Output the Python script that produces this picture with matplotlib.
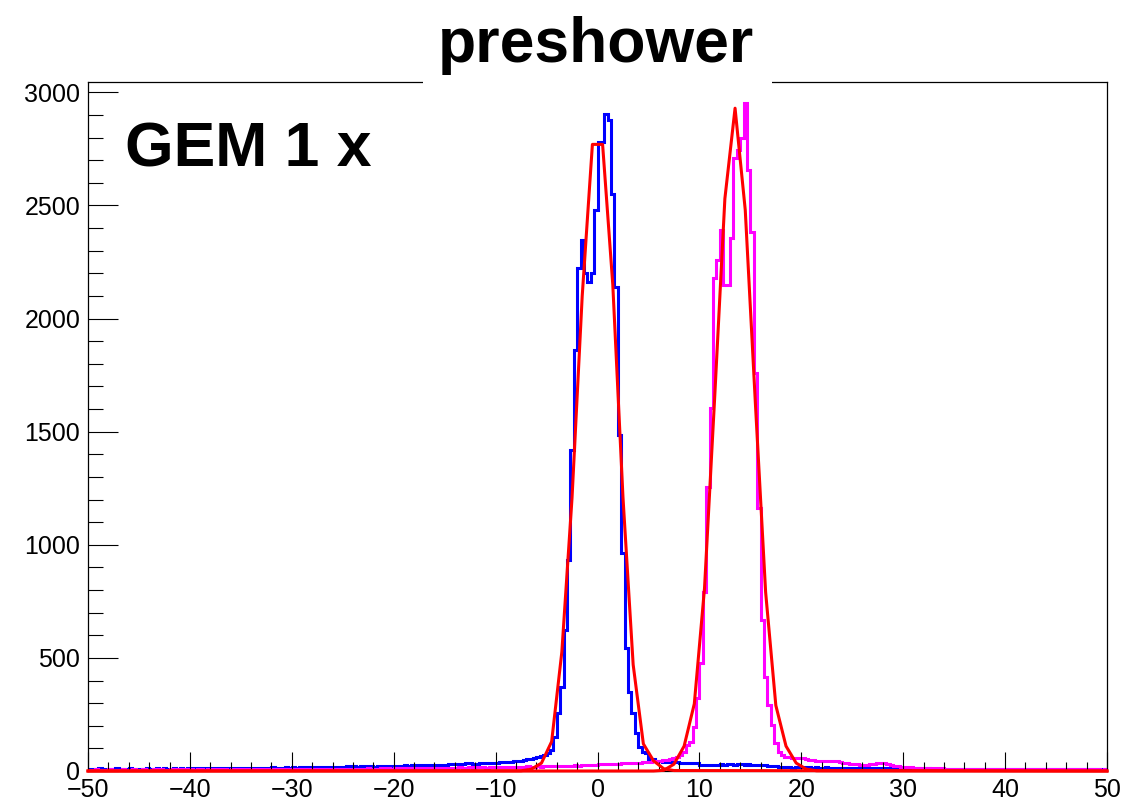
import numpy as np
import matplotlib
matplotlib.use("Agg")
import matplotlib.pyplot as plt
from matplotlib.patches import Rectangle
from matplotlib.ticker import MultipleLocator

plt.rcParams['font.family'] = ['Liberation Sans', 'DejaVu Sans']

# histogram binning: 300 bins on [-50, 50]
x_lo, x_hi, n_bins = -50, 50, 300

# blue histogram (GEM 1 x, first peak), 15 bins per row = 5 units
blue_counts = [
    10, 11, 9, 12, 10, 11, 10, 9, 12, 11, 10, 10, 12, 11, 10,
    11, 10, 12, 11, 10, 12, 11, 12, 10, 11, 13, 11, 12, 10, 12,
    12, 13, 11, 12, 14, 12, 13, 12, 11, 13, 14, 12, 13, 12, 14,
    13, 14, 13, 15, 12, 14, 15, 13, 14, 16, 14, 15, 14, 16, 15,
    16, 15, 17, 16, 18, 16, 17, 19, 17, 18, 17, 19, 18, 17, 19,
    19, 20, 18, 21, 19, 20, 22, 20, 21, 19, 22, 21, 20, 23, 22,
    22, 24, 23, 25, 24, 26, 24, 25, 27, 26, 25, 27, 26, 28, 27,
    28, 30, 29, 31, 30, 33, 35, 34, 32, 33, 36, 35, 34, 37, 36,
    37, 39, 38, 41, 40, 43, 45, 46, 49, 52, 54, 58, 62, 66, 70,
    78, 93, 152, 255, 373, 623, 933, 1419, 1861, 2222, 2347, 2200, 2160, 2200, 2480,
    2779, 2779, 2904, 2878, 2551, 2141, 1485, 962, 542, 351, 255, 167, 107, 85, 80,
    55, 55, 45, 42, 40, 41, 40, 38, 39, 36, 37, 36, 35, 36, 34,
    27, 26, 28, 25, 27, 26, 29, 28, 30, 29, 28, 29, 30, 28, 29,
    27, 26, 28, 25, 26, 24, 22, 20, 18, 17, 16, 17, 15, 16, 16,
    16, 15, 17, 15, 16, 14, 15, 16, 14, 15, 14, 15, 13, 14, 15,
    14, 13, 15, 14, 13, 14, 12, 13, 14, 12, 13, 12, 13, 12, 12,
    12, 11, 12, 11, 12, 10, 11, 12, 11, 10, 11, 10, 11, 10, 11,
    10, 11, 10, 9, 10, 11, 10, 9, 10, 10, 9, 10, 11, 9, 10,
    9, 10, 9, 10, 9, 8, 10, 9, 9, 10, 8, 9, 10, 9, 8,
    9, 8, 9, 10, 8, 9, 8, 9, 8, 9, 10, 8, 9, 8, 9,
]

# magenta histogram (second peak)
magenta_counts = [
    6, 5, 7, 6, 5, 6, 7, 5, 6, 6, 7, 5, 6, 7, 6,
    6, 7, 6, 5, 7, 6, 7, 6, 6, 7, 5, 7, 6, 7, 6,
    7, 6, 7, 7, 6, 8, 7, 6, 7, 8, 7, 6, 8, 7, 7,
    7, 8, 7, 8, 7, 8, 8, 7, 9, 8, 7, 8, 9, 8, 8,
    8, 9, 8, 9, 8, 10, 9, 8, 9, 10, 9, 10, 9, 10, 9,
    10, 9, 11, 10, 10, 11, 10, 12, 11, 10, 11, 12, 11, 12, 11,
    12, 11, 12, 13, 12, 13, 12, 14, 13, 12, 14, 13, 14, 13, 14,
    14, 15, 14, 15, 16, 15, 14, 16, 15, 16, 17, 16, 15, 17, 16,
    17, 16, 18, 17, 18, 19, 18, 17, 19, 20, 19, 18, 20, 19, 21,
    20, 21, 22, 21, 23, 22, 24, 23, 25, 24, 26, 25, 26, 27, 28,
    29, 30, 31, 30, 32, 33, 32, 34, 35, 34, 36, 37, 36, 38, 40,
    41, 42, 44, 45, 47, 50, 53, 57, 63, 71, 86, 115, 130, 196, 321,
    476, 793, 1257, 1603, 2178, 2259, 2392, 2149, 2149, 2355, 2709, 2745, 2797, 2952, 2657,
    2384, 1758, 1161, 668, 417, 292, 203, 122, 86, 71, 63, 63, 56, 56, 56,
    56, 54, 50, 47, 44, 42, 44, 46, 46, 45, 42, 38, 36, 34, 33,
    31, 29, 28, 27, 28, 30, 33, 36, 37, 35, 30, 25, 22, 20, 19,
    18, 17, 16, 15, 15, 14, 14, 13, 13, 12, 12, 12, 11, 11, 11,
    10, 11, 10, 10, 9, 10, 9, 9, 10, 9, 8, 9, 9, 8, 9,
    8, 9, 8, 8, 9, 8, 7, 8, 8, 7, 8, 8, 7, 8, 7,
    7, 8, 7, 7, 8, 7, 7, 6, 7, 7, 6, 7, 7, 6, 7,
]

# gaussian fit curves as drawn (sampled points)
fit1_x = [-50, -7.5, -6.5, -5.5, -4.5, -3.5, -2.5, -1.5, -0.5, 0.5, 1.5, 2.5, 3.5, 4.5, 5.5, 6.5, 7.5, 50]
fit1_y = [0, 1, 8, 35, 130, 526, 1207, 2100, 2770, 2770, 2150, 1210, 470, 120, 45, 10, 2, 0]
fit2_x = [-50, 5.5, 6.5, 7.5, 8.5, 9.5, 10.5, 11.5, 12.5, 13.5, 14.5, 15.5, 16.5, 17.5, 18.5, 19.5, 20.5, 21.5, 50]
fit2_y = [0, 0, 3, 30, 110, 297, 807, 1652, 2530, 2930, 2480, 1620, 790, 290, 110, 35, 8, 1, 0]

W, H = 1124, 802
fig = plt.figure(figsize=(W / 100, H / 100), dpi=100)
ax = fig.add_axes([88 / W, 31 / H, (1107 - 88) / W, (771 - 81.5) / H])

edges = np.linspace(x_lo, x_hi, n_bins + 1)
ax.stairs(blue_counts, edges, baseline=None, color='#0000ff', lw=2.2)
ax.stairs(magenta_counts, edges, baseline=None, color='#ff00ff', lw=2.2)
ax.plot(fit1_x, fit1_y, color='#ff0000', lw=2.2, clip_on=False, zorder=3)
ax.plot(fit2_x, fit2_y, color='#ff0000', lw=2.2, clip_on=False, zorder=3)

ax.set_xlim(x_lo, x_hi)
ax.set_ylim(0, 3048)
ax.xaxis.set_major_locator(MultipleLocator(10))
ax.xaxis.set_minor_locator(MultipleLocator(2))
ax.yaxis.set_major_locator(MultipleLocator(500))
ax.yaxis.set_minor_locator(MultipleLocator(100))
ax.tick_params(axis='both', which='both', direction='in', width=0.8, labelsize=18)
ax.tick_params(axis='x', which='major', length=13.7, pad=5)
ax.tick_params(axis='x', which='minor', length=6.7)
ax.tick_params(axis='y', which='major', length=21.6, pad=5.5)
ax.tick_params(axis='y', which='minor', length=10.8)
for sp in ax.spines.values():
    sp.set_linewidth(0.9)

# title box hides the frame top
fig.patches.append(Rectangle((423 / W, 1 - 85 / H), (772 - 423) / W, 85 / H,
                             transform=fig.transFigure, facecolor='white',
                             edgecolor='none', zorder=5))
fig.text(595.6 / W, 1 - 61.7 / H, 'preshower', ha='center', va='baseline',
         fontsize=45, fontweight='bold', zorder=6)
fig.text(125 / W, 1 - 166.7 / H, 'GEM 1 x', ha='left', va='baseline',
         fontsize=45, fontweight='bold', zorder=6)

fig.savefig('out.png', dpi=100)
